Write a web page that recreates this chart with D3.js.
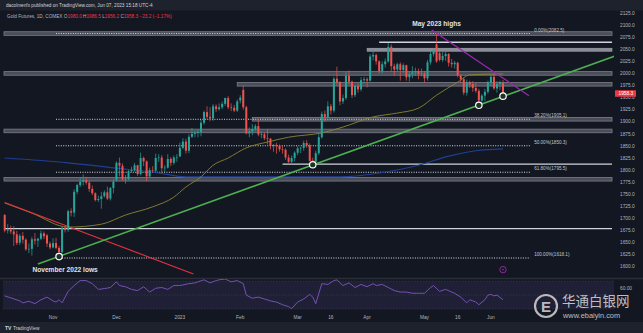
<!DOCTYPE html>
<html><head><meta charset="utf-8">
<script src="https://cdn.jsdelivr.net/npm/d3@7"></script>
<style>
html,body{margin:0;padding:0;background:#131722;overflow:hidden;}
svg{display:block;font-family:"Liberation Sans",Arial,sans-serif;}
</style></head><body>
<svg id="c" width="643" height="333"></svg>
<script>
// ---------- DATA ----------
const dates = [
"2022-10-10","2022-10-11","2022-10-12","2022-10-13","2022-10-14","2022-10-17","2022-10-18","2022-10-19","2022-10-20","2022-10-21",
"2022-10-24","2022-10-25","2022-10-26","2022-10-27","2022-10-28","2022-10-31",
"2022-11-01","2022-11-02","2022-11-03","2022-11-04","2022-11-07","2022-11-08","2022-11-09","2022-11-10","2022-11-11","2022-11-14",
"2022-11-15","2022-11-16","2022-11-17","2022-11-18","2022-11-21","2022-11-22","2022-11-23","2022-11-25","2022-11-28","2022-11-29","2022-11-30",
"2022-12-01","2022-12-02","2022-12-05","2022-12-06","2022-12-07","2022-12-08","2022-12-09","2022-12-12","2022-12-13","2022-12-14",
"2022-12-15","2022-12-16","2022-12-19","2022-12-20","2022-12-21","2022-12-22","2022-12-23","2022-12-27","2022-12-28","2022-12-29","2022-12-30",
"2023-01-03","2023-01-04","2023-01-05","2023-01-06","2023-01-09","2023-01-10","2023-01-11","2023-01-12","2023-01-13","2023-01-17",
"2023-01-18","2023-01-19","2023-01-20","2023-01-23","2023-01-24","2023-01-25","2023-01-26","2023-01-27","2023-01-30","2023-01-31",
"2023-02-01","2023-02-02","2023-02-03","2023-02-06","2023-02-07","2023-02-08","2023-02-09","2023-02-10","2023-02-13","2023-02-14",
"2023-02-15","2023-02-16","2023-02-17","2023-02-21","2023-02-22","2023-02-23","2023-02-24","2023-02-27","2023-02-28",
"2023-03-01","2023-03-02","2023-03-03","2023-03-06","2023-03-07","2023-03-08","2023-03-09","2023-03-10","2023-03-13","2023-03-14",
"2023-03-15","2023-03-16","2023-03-17","2023-03-20","2023-03-21","2023-03-22","2023-03-23","2023-03-24","2023-03-27","2023-03-28",
"2023-03-29","2023-03-30","2023-03-31",
"2023-04-03","2023-04-04","2023-04-05","2023-04-06","2023-04-10","2023-04-11","2023-04-12","2023-04-13","2023-04-14","2023-04-17",
"2023-04-18","2023-04-19","2023-04-20","2023-04-21","2023-04-24","2023-04-25","2023-04-26","2023-04-27","2023-04-28",
"2023-05-01","2023-05-02","2023-05-03","2023-05-04","2023-05-05","2023-05-08","2023-05-09","2023-05-10","2023-05-11","2023-05-12",
"2023-05-15","2023-05-16","2023-05-17","2023-05-18","2023-05-19","2023-05-22","2023-05-23","2023-05-24","2023-05-25","2023-05-26",
"2023-05-30","2023-05-31",
"2023-06-01","2023-06-02","2023-06-05","2023-06-06","2023-06-07"];

const open = [
1707,1675,1677,1673,1667,1650,1664,1656,1636,1637,
1657,1654,1658,1669,1665,1648,1640,1649,1639,1630,
1681,1676,1715,1712,1755,1769,1776,1779,1774,1761,
1752,1738,1740,1746,1754,1741,1763,1780,1815,1809,
1781,1782,1798,1800,1810,1792,1825,1818,1787,1800,
1799,1825,1826,1804,1805,1823,1815,1826,1828,1846,
1859,1840,1869,1875,1877,1879,1898,1920,1910,1907,
1932,1926,1930,1937,1949,1930,1929,1923,1944,1966,
1930,1876,1880,1885,1891,1874,1874,1866,1865,1850,
1852,1850,1843,1842,1826,1817,1825,1836,1845,1846,
1856,1851,1820,1817,1835,1868,1916,1910,1932,1923,
1989,1982,1942,1949,1995,1983,1955,1974,1967,1986,
1988,1985,2035,2038,2025,2005,2019,2025,2055,2015,
2008,2019,2007,2017,1992,1999,2002,2005,1999,2000,
1990,2023,2040,2060,2042,2028,2036,2040,2022,2019,
2022,1996,1988,1960,1981,1978,1970,1964,1944,1954,
1962,1982,1993,1969,1978,1980];
const high = [
1709,1688,1685,1684,1674,1668,1672,1659,1648,1662,
1670,1660,1675,1673,1668,1652,1659,1660,1643,1684,
1685,1718,1721,1760,1772,1785,1791,1786,1778,1768,
1754,1747,1755,1758,1766,1765,1781,1818,1826,1814,
1790,1800,1807,1815,1811,1836,1828,1820,1805,1808,
1834,1833,1831,1810,1833,1827,1830,1833,1857,1866,
1865,1874,1887,1882,1884,1904,1923,1932,1930,1937,
1936,1938,1942,1950,1953,1938,1935,1946,1955,1975,
1933,1888,1895,1895,1906,1880,1878,1885,1866,1854,
1856,1853,1850,1845,1832,1830,1839,1849,1848,1861,
1862,1855,1826,1840,1875,1921,1923,1942,1937,1993,
2014,1984,1956,2003,2006,1985,1977,1980,1992,1993,
1992,2040,2049,2041,2027,2025,2031,2063,2060,2020,
2022,2023,2021,2018,2005,2015,2012,2010,2010,2005,
2028,2045,2052,2082.5,2048,2044,2048,2042,2030,2026,
2024,1998,1992,1987,1985,1984,1980,1968,1957,1968,
1985,1997,1999,1984,1985,1986.5];
const low = [
1671,1669,1668,1643,1645,1645,1648,1633,1628,1623,
1646,1641,1655,1657,1641,1636,1638,1636,1618,1628,
1671,1672,1704,1703,1750,1765,1768,1770,1755,1748,
1735,1734,1720,1743,1738,1737,1752,1776,1787,1778,
1772,1779,1795,1797,1788,1789,1808,1777,1785,1795,
1795,1817,1795,1796,1803,1808,1811,1817,1828,1843,
1834,1835,1866,1868,1868,1870,1894,1905,1901,1902,
1920,1923,1926,1933,1926,1922,1920,1920,1938,1925,
1874,1868,1872,1880,1870,1866,1862,1853,1843,1838,
1834,1838,1834,1821,1815,1812,1818,1831,1835,1840,
1846,1818,1813,1815,1831,1865,1900,1903,1915,1919,
1975,1934,1937,1945,1976,1949,1951,1960,1963,1979,
1971,1983,2027,2018,2000,2000,2012,2022,2005,1995,
2004,1985,2001,1985,1983,1990,1995,1988,1994,1981,
1985,2018,2035,2022,2025,2024,2026,2014,2012,2010,
1992,1981,1955,1954,1970,1962,1960,1936,1938,1943,
1958,1974,1966,1960,1966,1956.2];
const close = [
1675,1677,1673,1667,1649,1664,1656,1636,1637,1657,
1654,1658,1669,1663,1648,1640,1649,1639,1630,1681,
1676,1715,1712,1755,1769,1776,1779,1774,1761,1752,
1738,1740,1746,1754,1741,1763,1776,1815,1809,1781,
1782,1798,1800,1810,1792,1825,1818,1787,1800,1799,
1825,1826,1804,1805,1823,1815,1826,1826,1846,1859,
1840,1869,1875,1877,1879,1898,1920,1910,1907,1932,
1926,1930,1937,1949,1930,1929,1923,1942,1950,1930,
1876,1880,1885,1891,1874,1874,1866,1865,1850,1852,
1850,1843,1842,1826,1817,1825,1836,1845,1846,1856,
1851,1819,1817,1835,1868,1916,1910,1932,1923,1989,
1982,1942,1949,1995,1983,1955,1974,1967,1986,1988,
1985,2035,2038,2025,2005,2019,2025,2055,2015,2008,
2019,2007,2017,1992,1999,2002,2005,1999,2000,1990,
2023,2040,2048,2025,2028,2036,2040,2022,2019,2022,
1996,1988,1960,1981,1977,1970,1964,1944,1954,1962,
1982,1993,1969,1978,1981.5,1958.3];

// moving averages (bar index, value)
const ma50Bar = [0,9,21,32,40,49,56,60,65,69,74,80,87,94,105,112,122,130,137,143,150,154,165];
const ma50Val = [1732,1711,1682,1688,1707,1724,1744,1765,1786,1810,1825,1846,1858,1868,1877,1889,1910,1918,1928,1955,1982,1997,1999];
const ma200Bar = [0,21,37,51,60,80,111,124,137,147,156,165];
const ma200Val = [1825,1815,1804,1794,1786,1786,1786,1794,1810,1829,1840,1844];

// RSI
const rsiBar = [0,2,5,6,8,10,12,14,16,17,18,19,21,23,25,27,29,31,33,35,37,38,40,42,44,46,48,50,52,54,56,58,61,63,66,68,70,71,73,75,77,79,80,82,84,86,88,90,92,94,95,97,99,101,102,103,105,107,109,110,112,114,116,118,120,122,123,125,127,129,131,133,135,137,139,141,142,144,146,148,149,151,153,154,156,157,159,160,161,162,163,165];
const rsiVal = [48.7,46,41.6,38.8,41,37.7,43.2,47,41.6,39.9,43.2,38.8,55.2,63.5,70.6,70.6,66.2,58,59.1,60.7,68.9,63.5,61.8,58,56.3,61.8,54.2,59.6,60.7,58,63.5,63.5,66.2,67.3,71.7,67.3,70.6,71.7,72.8,68.9,70.6,66.2,49.8,45.4,47,44.3,41.6,39.9,36.1,33.4,30.6,39.9,44.3,50.9,47,37.7,66.2,65.1,70.6,71.7,63.5,67.3,60.7,65.1,61.8,66.2,63.5,65.1,60.7,56.3,54.2,54.2,52.5,52.5,52.5,60.7,63.5,55.2,58,54.2,52.5,47,38.8,43.2,39.9,36.1,43.2,49.8,50.9,48.7,49.8,43.2];

// horizontal levels: price, start date (null = whole chart), kind
const levelPrice = [2082.5, 2064.5, 2049, 2000, 1977.5, 1905.1, 1881, 1812.5, 1781, 1679];
const levelStart = [null, "2023-04-10", "2023-04-03", null, "2023-01-31", "2023-02-07", null, "2023-02-22", null, null];
const levelKind  = ["band","white","light","band","band","band","band","white","band","white"];

// Fibonacci retracement
const fibPct   = ["0.00%","38.20%","50.00%","61.80%","100.00%"];
const fibPrice = [2082.5,1905.1,1850.3,1795.5,1618.1];
const fibStart = ["2022-11-02","2022-11-02","2022-11-02","2022-11-02","2022-11-04"];
const fibEndBar = 174;

// drawn trend lines [bar, price]
const greenLine  = [[11,1605.7],[203,2038]];
const redLine    = [[0,1733],[62.5,1585]];
const purpleLine = [[141.4,2090],[173.6,1954]];
const circleBar = [18,102,157,165];
const circleVal = [1621,1811,1934,1953];

const priceTicks = [2125,2100,2075,2050,2025,2000,1975,1950,1925,1900,1875,1850,1825,1800,1775,1750,1725,1700,1675,1650,1625,1600];
const timeTickDates  = ["2022-11-01","2022-12-01","2023-01-03","2023-02-01","2023-03-01","2023-03-16","2023-04-03","2023-05-01","2023-05-16","2023-06-01"];
const timeTickLabels = ["Nov","Dec","2023","Feb","Mar","16","Apr","May","16","Jun"];

// ---------- DRAW ----------
const W=643,H=333;
const svg=d3.select('#c');
const N = dates.length;
const x = d3.scaleLinear().domain([0,N-1]).range([4.7,503]);
const y = d3.scaleLinear().domain([1600,2125]).range([266.75,13]);
const rs = d3.scaleLinear().domain([30,70]).range([309,281]);
const idx = d => dates.indexOf(d);

svg.append('rect').attr('width',W).attr('height',H).attr('fill','#131722');
svg.append('rect').attr('width',W).attr('height',10.5).attr('fill','#1e222d');
svg.append('rect').attr('y',322).attr('width',W).attr('height',11).attr('fill','#1e222d');
svg.append('line').attr('x1',0).attr('x2',W).attr('y1',278.5).attr('y2',278.5).attr('stroke','#2a2e39').attr('stroke-width',1.5);

const defs = svg.append('defs');
defs.append('clipPath').attr('id','main').append('rect').attr('x',3).attr('y',11).attr('width',611).attr('height',267);
defs.append('clipPath').attr('id','rsi').append('rect').attr('x',3).attr('y',279).attr('width',611).attr('height',34);

const g = svg.append('g').attr('clip-path','url(#main)');

// levels
const XR = 612;
levelPrice.forEach((p,i)=>{
  const x0 = levelStart[i] ? x(idx(levelStart[i])) : 4;
  const yy = y(p);
  if(levelKind[i]==='band'){
    g.append('rect').attr('x',x0).attr('y',yy-1.8).attr('width',XR-x0).attr('height',3.6)
      .attr('fill','#4a4d57').attr('stroke','#7c7f89').attr('stroke-width',0.8);
  } else if(levelKind[i]==='light'){
    g.append('rect').attr('x',x0).attr('y',yy-1.5).attr('width',XR-x0).attr('height',3)
      .attr('fill','#8a8d96').attr('stroke','#a5a8b0').attr('stroke-width',0.6);
  } else {
    g.append('line').attr('x1',x0).attr('x2',XR).attr('y1',yy).attr('y2',yy)
      .attr('stroke','#d1d4dc').attr('stroke-width',1.3);
  }
});

// fib lines
fibPrice.forEach((p,i)=>{
  const yy = y(p);
  g.append('line').attr('x1',x(idx(fibStart[i]))).attr('x2',x(fibEndBar)).attr('y1',yy).attr('y2',yy)
    .attr('stroke','#d8dae0').attr('stroke-width',1).attr('stroke-dasharray','1,1.4');
  g.append('text').attr('x',x(fibEndBar)+4).attr('y',yy-2).attr('font-size',4.6).attr('fill','#c3c6ce')
    .text(`${fibPct[i]}(${p.toFixed(1)})`);
});

// moving averages
const lineGen = d3.line().x(d=>x(d[0])).y(d=>y(d[1])).curve(d3.curveMonotoneX);
g.append('path').datum(ma200Bar.map((b,i)=>[b,ma200Val[i]])).attr('d',lineGen)
  .attr('fill','none').attr('stroke','#1f3f94').attr('stroke-width',1.2);
g.append('path').datum(ma50Bar.map((b,i)=>[b,ma50Val[i]])).attr('d',lineGen)
  .attr('fill','none').attr('stroke','#8a8530').attr('stroke-width',0.9);

// red trend line
const straight = d3.line().x(d=>x(d[0])).y(d=>y(d[1]));
g.append('path').datum(redLine).attr('d',straight).attr('stroke','#e8323f').attr('stroke-width',1.1).attr('fill','none');

// candles
const cw = 2.0;
const cg = g.append('g');
d3.range(N).forEach(i=>{
  const up = close[i]>=open[i];
  const col = up ? '#26a69a' : '#ef5350';
  const xc = x(i);
  cg.append('line').attr('x1',xc).attr('x2',xc).attr('y1',y(high[i])).attr('y2',y(low[i]))
    .attr('stroke',col).attr('stroke-width',0.7);
  const yt = y(Math.max(open[i],close[i])), yb = y(Math.min(open[i],close[i]));
  cg.append('rect').attr('x',xc-cw/2).attr('y',yt).attr('width',cw).attr('height',Math.max(0.6,yb-yt)).attr('fill',col);
});

// green and purple trend lines
g.append('path').datum(greenLine).attr('d',straight).attr('stroke','#4caf50').attr('stroke-width',1.5).attr('fill','none');
g.append('path').datum(purpleLine).attr('d',straight).attr('stroke','#9c27b0').attr('stroke-width',1.2).attr('fill','none');

// circles
circleBar.forEach((b,i)=>{
  g.append('circle').attr('cx',x(b)).attr('cy',y(circleVal[i])).attr('r',3.2)
    .attr('fill','#1d3324').attr('stroke','#ffffff').attr('stroke-width',1.2);
});

// annotations
g.append('text').attr('x',x(143)).attr('y',y(2098)).attr('text-anchor','middle').attr('font-size',6.6)
  .attr('font-weight','bold').attr('fill','#e0e3eb').text('May 2023 highs');
g.append('text').attr('x',x(20)).attr('y',y(1590)).attr('text-anchor','middle').attr('font-size',6.6)
  .attr('font-weight','bold').attr('fill','#e0e3eb').text('November 2022 lows');

// event marker
const ev = g.append('g').attr('transform',`translate(${x(N-1)},${y(1594)})`);
ev.append('circle').attr('r',3.2).attr('fill','none').attr('stroke','#9c27b0').attr('stroke-width',0.9);
ev.append('path').attr('d','M0.6,-2 L-1.2,0.3 L0.2,0.3 L-0.6,2 L1.2,-0.4 L-0.2,-0.4 Z').attr('fill','#9c27b0');

// right axis labels
const ax = svg.append('g');
priceTicks.forEach(p=>{
  ax.append('text').attr('x',620).attr('y',y(p)).attr('dy','0.35em').attr('font-size',4.8)
    .attr('fill','#b2b5be').text(p.toFixed(1));
});
const last = close[N-1];
ax.append('rect').attr('x',615).attr('y',y(last)-3.3).attr('width',21).attr('height',6.6).attr('fill','#f23645').attr('rx',0.5);
ax.append('text').attr('x',618.5).attr('y',y(last)).attr('dy','0.35em').attr('font-size',4.8).attr('fill','#ffffff').text(last.toFixed(1));

// RSI pane
const rg = svg.append('g').attr('clip-path','url(#rsi)');
rg.append('rect').attr('x',3).attr('y',rs(70)).attr('width',611).attr('height',rs(30)-rs(70)).attr('fill','rgba(126,87,194,0.12)');
[70,50,30].forEach(v=>{
  rg.append('line').attr('x1',3).attr('x2',614).attr('y1',rs(v)).attr('y2',rs(v))
    .attr('stroke','#787b86').attr('stroke-opacity',0.35).attr('stroke-width',0.6).attr('stroke-dasharray','1.5,1.5');
});
rg.append('path').datum(rsiBar.map((b,i)=>[b,rsiVal[i]]))
  .attr('d',d3.line().x(d=>x(d[0])).y(d=>rs(d[1])))
  .attr('fill','none').attr('stroke','#7e57c2').attr('stroke-width',0.9);
svg.append('text').attr('x',620).attr('y',rs(60)).attr('dy','0.35em').attr('font-size',4.8).attr('fill','#b2b5be').text('60.00');

// time axis
timeTickDates.forEach((d,i)=>{
  svg.append('text').attr('x',x(idx(d))).attr('y',318.5).attr('text-anchor','middle').attr('font-size',4.8)
    .attr('fill','#b2b5be').text(timeTickLabels[i]);
});

// header
svg.append('text').attr('x',6).attr('y',7.4).attr('font-size',4.7).attr('fill','#d1d4dc')
  .text('dacolmenfx published on TradingView.com, Jun 07, 2023 15:18 UTC-4');
const prevClose = close[N-2];
const chg = last - prevClose;
const hdr = svg.append('text').attr('x',7).attr('y',18.3).attr('font-size',4.7).attr('fill','#b2b5be');
hdr.append('tspan').text('Gold Futures, 1D, COMEX  ');
const red='#f23645';
[['O',open[N-1]],['H',high[N-1]],['L',low[N-1]],['C',last]].forEach(([k,v])=>{
  hdr.append('tspan').attr('fill','#b2b5be').text(k);
  hdr.append('tspan').attr('fill',red).text(v.toFixed(1)+'  ');
});
hdr.append('tspan').attr('fill',red).text(`${d3.format('+.1f')(chg).replace('-','−')} (${d3.format('+.2f')(chg/prevClose*100).replace('-','−')}%)`);

// watermark
const wm = svg.append('g').attr('opacity',0.85);
wm.append('circle').attr('cx',546).attr('cy',306).attr('r',11).attr('fill','none').attr('stroke','#d6d6d6').attr('stroke-width',2.2);
wm.append('text').attr('x',546).attr('y',311.5).attr('text-anchor','middle').attr('font-size',15).attr('font-weight','bold').attr('fill','#d6d6d6').text('E');
wm.append('text').attr('x',562).attr('y',306).attr('font-size',13.5).attr('fill','#dcdcdc')
  .attr('font-family','"Noto Sans CJK SC",sans-serif').text('华通白银网');
wm.append('text').attr('x',563).attr('y',318).attr('font-size',7.4).attr('fill','#dcdcdc').text('www.ebaiyin.com');

// footer
const ft = svg.append('g');
ft.append('text').attr('x',5).attr('y',329.5).attr('font-size',5).attr('font-weight','bold').attr('fill','#d1d4dc').text('TV');
ft.append('text').attr('x',13).attr('y',329.5).attr('font-size',4.8).attr('fill','#d1d4dc').text('TradingView');
</script>
</body></html>
